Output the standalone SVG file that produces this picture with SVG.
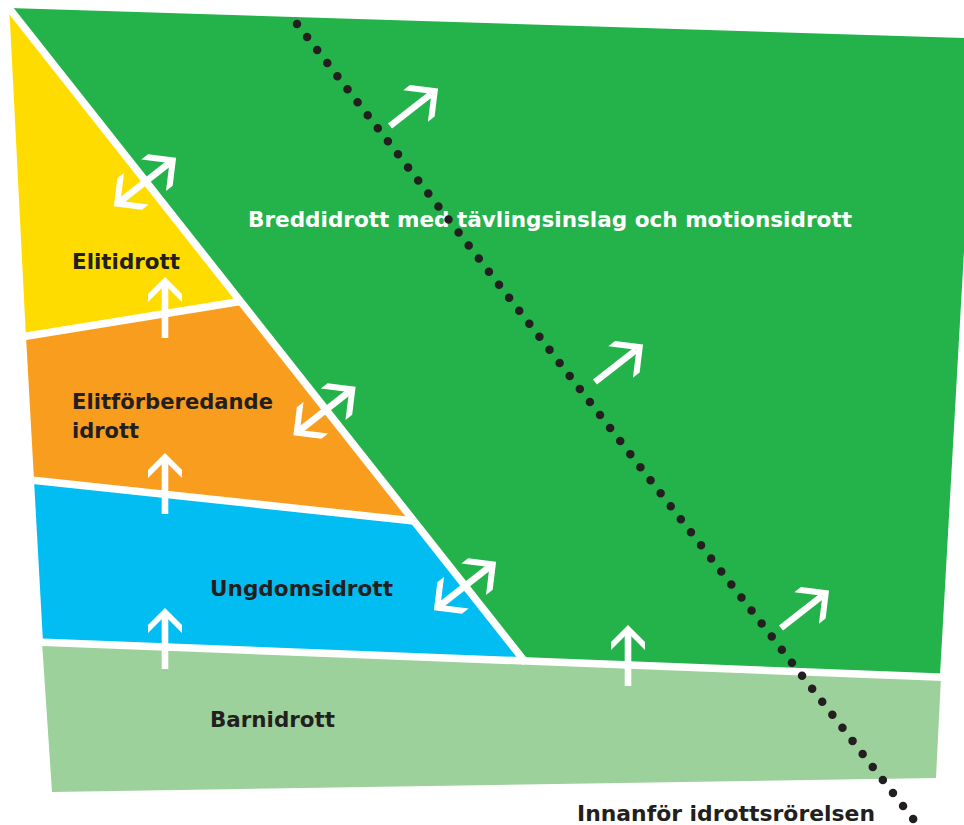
<svg xmlns="http://www.w3.org/2000/svg" xmlns:xlink="http://www.w3.org/1999/xlink" width="964" height="825" viewBox="0 0 964 825">
  <style>
    .sep { stroke: #ffffff; stroke-width: 7.5; fill: none; stroke-linecap: butt; }
    .lbl { font-family: "DejaVu Sans", Verdana, sans-serif; font-weight: bold; font-size: 21.5px; fill: #231f20; }
    .lbl-w { fill: #ffffff; }
    .arrow { fill: #ffffff; }
    .dots { stroke: #231f20; stroke-width: 8.5; stroke-linecap: round; stroke-dasharray: 0 16.49; fill: none; }
  </style>
  <defs>
    <g id="arrowUp">
      <rect x="0" y="-3.3" width="54" height="6.6"/>
      <polygon points="61,0 44,-17 36,-17 53,0 36,17 44,17"/>
    </g>
    <g id="arrowDiag">
      <rect x="0" y="-3.3" width="52" height="6.6"/>
      <polygon points="61,0 41,-20 32.5,-20 52.5,0 32.5,20 41,20"/>
    </g>
    <g id="arrowBoth">
      <rect x="-31" y="-3.3" width="62" height="6.6"/>
      <polygon points="39.5,0 19.5,-20 11,-20 31,0 11,20 19.5,20"/>
      <polygon points="-39.5,0 -19.5,-20 -11,-20 -31,0 -11,20 -19.5,20"/>
    </g>
  </defs>

  <rect width="964" height="825" fill="#ffffff"/>

  <g id="breddidrott">
    <polygon points="9,8 976,38.4 940,675 523,661" fill="#24b24b"/>
  </g>
  <g id="elitidrott">
    <polygon points="9,8 240,304 26,338 10,22" fill="#ffdc00"/>
  </g>
  <g id="elitforberedande">
    <polygon points="26,336 238,302 412,521 34,480" fill="#f89d1e"/>
  </g>
  <g id="ungdomsidrott">
    <polygon points="34,480 412,521 524,661 43,642" fill="#02bdf2"/>
  </g>
  <g id="barnidrott">
    <polygon points="42,642 941,677 936,778 52,792" fill="#9dd19b"/>
  </g>

  <g id="separators">
    <line class="sep" x1="5" y1="3" x2="526" y2="663"/>
    <line class="sep" x1="18" y1="337.5" x2="240" y2="301.5"/>
    <line class="sep" x1="26" y1="479.5" x2="414" y2="521"/>
    <line class="sep" x1="36" y1="642" x2="950" y2="677.5"/>
  </g>

  <g id="connectors" class="arrow">
    <use xlink:href="#arrowUp" transform="translate(165,338) rotate(-90)"/>
    <use xlink:href="#arrowUp" transform="translate(165,514) rotate(-90)"/>
    <use xlink:href="#arrowUp" transform="translate(165,669) rotate(-90)"/>
    <use xlink:href="#arrowUp" transform="translate(628,686) rotate(-90)"/>
    <use xlink:href="#arrowDiag" transform="translate(390,126) rotate(-38)"/>
    <use xlink:href="#arrowDiag" transform="translate(595,382) rotate(-38)"/>
    <use xlink:href="#arrowDiag" transform="translate(781,628) rotate(-38)"/>
    <use xlink:href="#arrowBoth" transform="translate(145,182) rotate(-38)"/>
    <use xlink:href="#arrowBoth" transform="translate(324.5,411) rotate(-38)"/>
    <use xlink:href="#arrowBoth" transform="translate(465,586) rotate(-38)"/>
  </g>

  <g id="labels">
    <text class="lbl lbl-w" x="248" y="227" textLength="604" lengthAdjust="spacingAndGlyphs">Breddidrott med tävlingsinslag och motionsidrott</text>
    <text class="lbl" x="72" y="269" textLength="108" lengthAdjust="spacingAndGlyphs">Elitidrott</text>
    <text class="lbl" x="72" y="409" textLength="201" lengthAdjust="spacingAndGlyphs">Elitförberedande</text>
    <text class="lbl" x="72" y="438" textLength="67" lengthAdjust="spacingAndGlyphs">idrott</text>
    <text class="lbl" x="210" y="596" textLength="183" lengthAdjust="spacingAndGlyphs">Ungdomsidrott</text>
    <text class="lbl" x="210" y="727" textLength="125" lengthAdjust="spacingAndGlyphs">Barnidrott</text>
  </g>

  <g id="idrottsrorelsen-grans">
    <line class="dots" x1="297" y1="24" x2="913.8" y2="819.9"/>
    <text class="lbl" x="577" y="821" textLength="298" lengthAdjust="spacingAndGlyphs">Innanför idrottsrörelsen</text>
  </g>
</svg>
